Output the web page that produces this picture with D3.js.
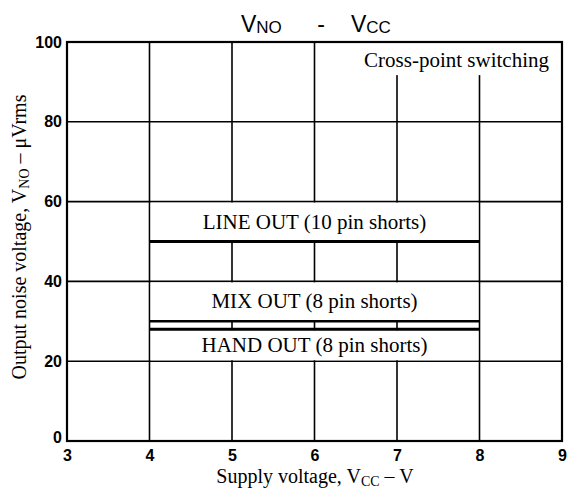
<!DOCTYPE html>
<html>
<head>
<meta charset="utf-8">
<script src="https://cdn.jsdelivr.net/npm/d3@7"></script>
<style>
  html, body { margin: 0; padding: 0; background: #fff; }
  svg { display: block; }
</style>
</head>
<body>
<svg id="chart" width="571" height="490"></svg>
<script>
// ---- Data ----
const xTicks = [3, 4, 5, 6, 7, 8, 9];
const yTicks = [0, 20, 40, 60, 80, 100];
const seriesNames = ["LINE OUT (10 pin shorts)", "MIX OUT (8 pin shorts)", "HAND OUT (8 pin shorts)"];
const seriesValues = [50, 30, 28];          // µVrms, constant over the range
const seriesVcc = [4, 8];                    // supply voltage range (V)
const labelBands = [[60, 50], [40, 30], [28, 20]]; // value band each label sits in
const noteText = "Cross-point switching";

// ---- Layout ----
const svg = d3.select("#chart");
const x = d3.scaleLinear().domain([3, 9]).range([67, 562]);
const y = d3.scaleLinear().domain([0, 100]).range([441, 42]);

const serif = "'Liberation Serif', 'Times New Roman', serif";
const sans = "'Liberation Sans', Arial, sans-serif";

// gridlines
const grid = svg.append("g").attr("stroke", "#000").attr("stroke-width", 1.6);
grid.selectAll("line.v").data(xTicks.slice(1, -1)).join("line")
  .attr("x1", d => x(d)).attr("x2", d => x(d))
  .attr("y1", y(0)).attr("y2", y(100));
grid.selectAll("line.h").data(yTicks.slice(1, -1)).join("line")
  .attr("x1", x(3)).attr("x2", x(9))
  .attr("y1", d => y(d)).attr("y2", d => y(d));

// white label bands (mask inner gridlines)
svg.append("g").selectAll("rect").data(labelBands).join("rect")
  .attr("x", x(seriesVcc[0]) + 1.2)
  .attr("width", x(seriesVcc[1]) - x(seriesVcc[0]) - 2.4)
  .attr("y", d => y(d[0]) + 1)
  .attr("height", d => y(d[1]) - y(d[0]) - 2)
  .attr("fill", "#fff");

// note box
svg.append("rect")
  .attr("x", x(6.4)).attr("y", y(100) + 1)
  .attr("width", x(9) - x(6.4) - 1).attr("height", y(91.7) - y(100) - 1)
  .attr("fill", "#fff");
svg.append("text")
  .attr("x", x(9) - 13).attr("y", 67)
  .attr("text-anchor", "end")
  .attr("font-family", serif).attr("font-size", 21)
  .text(noteText);

// data lines
const lineGen = d3.line().x(d => x(d[0])).y(d => y(d[1]));
svg.append("g").selectAll("path").data(seriesValues).join("path")
  .attr("d", v => lineGen(seriesVcc.map(vcc => [vcc, v])))
  .attr("fill", "none").attr("stroke", "#000")
  .attr("stroke-width", (v, i) => i === 1 ? 2.4 : 3);

// series labels
svg.append("g").selectAll("text").data(seriesNames).join("text")
  .attr("x", x((seriesVcc[0] + seriesVcc[1]) / 2))
  .attr("y", (d, i) => (y(labelBands[i][0]) + y(labelBands[i][1])) / 2 + 7)
  .attr("text-anchor", "middle")
  .attr("font-family", serif).attr("font-size", 21)
  .text(d => d);

// frame
svg.append("rect")
  .attr("x", x(3)).attr("y", y(100))
  .attr("width", x(9) - x(3)).attr("height", y(0) - y(100))
  .attr("fill", "none").attr("stroke", "#000").attr("stroke-width", 2.2);

// axes tick labels
const xAxis = d3.axisBottom(x).tickValues(xTicks).tickSize(0).tickPadding(9).tickFormat(d3.format("d"));
const gx = svg.append("g").attr("transform", `translate(0,${y(0)})`).call(xAxis);
gx.select(".domain").remove();
gx.selectAll("text").attr("font-family", sans).attr("font-weight", "bold").attr("font-size", 16).attr("fill", "#000");

const yAxis = d3.axisLeft(y).tickValues(yTicks).tickSize(0).tickPadding(5).tickFormat(d3.format("d"));
const gy = svg.append("g").attr("transform", `translate(${x(3)},0)`).call(yAxis);
gy.select(".domain").remove();
gy.selectAll("text").attr("font-family", sans).attr("font-weight", "bold").attr("font-size", 16).attr("fill", "#000");
gy.selectAll(".tick").filter(d => d === 0).select("text").attr("dy", "0.1em");

// x axis label
const xl = svg.append("text")
  .attr("x", 315).attr("y", 483)
  .attr("text-anchor", "middle")
  .attr("font-family", serif).attr("font-size", 20);
xl.append("tspan").text("Supply voltage, V");
xl.append("tspan").attr("font-size", 14).attr("dy", 3).text("CC");
xl.append("tspan").attr("dy", -3).text(" \u2013 V");

// y axis label
const yl = svg.append("text")
  .attr("transform", "translate(26,237) rotate(-90)")
  .attr("text-anchor", "middle")
  .attr("font-family", serif).attr("font-size", 20);
yl.append("tspan").text("Output noise voltage, V");
yl.append("tspan").attr("font-size", 14).attr("dy", 3).text("NO");
yl.append("tspan").attr("dy", -3).text(" \u2013 \u03BCVrms");

// title
const t1 = svg.append("text").attr("x", 241).attr("y", 32)
  .attr("font-family", sans).attr("font-size", 23);
t1.append("tspan").text("V");
t1.append("tspan").attr("font-size", 17).attr("dy", 1).text("NO");
svg.append("text").attr("x", 321).attr("y", 32).attr("text-anchor", "middle")
  .attr("font-family", sans).attr("font-size", 23).text("-");
const t2 = svg.append("text").attr("x", 351).attr("y", 32)
  .attr("font-family", sans).attr("font-size", 23);
t2.append("tspan").text("V");
t2.append("tspan").attr("font-size", 17).attr("dy", 1).text("CC");
</script>
</body>
</html>
